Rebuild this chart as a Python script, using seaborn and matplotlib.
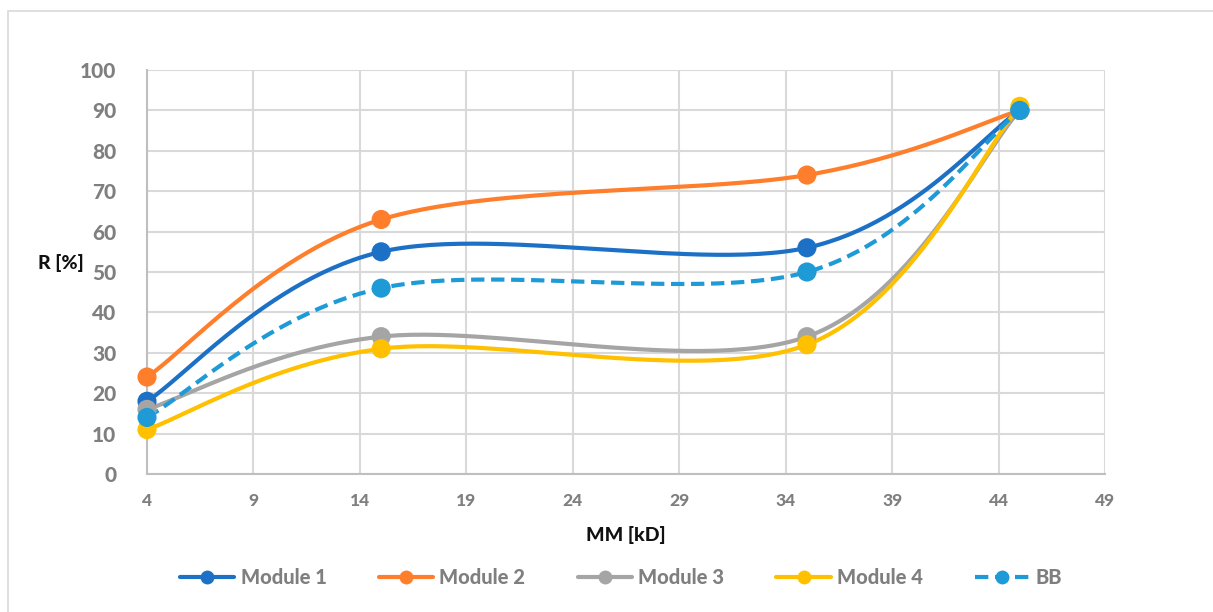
import numpy as np
import pandas as pd
import matplotlib
matplotlib.use("Agg")
import matplotlib.pyplot as plt
from matplotlib.lines import Line2D
from matplotlib.patches import Rectangle
import seaborn as sns

mm = [4, 15, 35, 45]
module1 = [18, 55, 56, 90]
module2 = [24, 63, 74, 90]
module3 = [16, 34, 34, 90]
module4 = [11, 31, 32, 91]
bb = [14, 46, 50, 90]
names = ["Module 1", "Module 2", "Module 3", "Module 4", "BB"]
colors = ["#1C71C6", "#FE7E2C", "#A5A5A5", "#FFC000", "#1E9BD7"]
styles = ["-", "-", "-", "-", (0, (3.2, 1.6))]


def smooth(x, y, n=60):
    # Excel-like smoothed line: cubic Bezier, Catmull-Rom control points
    p = np.column_stack([x, y]).astype(float)
    pts = []
    for i in range(len(p) - 1):
        p0 = p[max(i - 1, 0)]
        p1, p2 = p[i], p[i + 1]
        p3 = p[min(i + 2, len(p) - 1)]
        c1 = p1 + (p2 - p0) / 6
        c2 = p2 - (p3 - p1) / 6
        t = np.linspace(0, 1, n)[:, None]
        seg = ((1 - t) ** 3) * p1 + 3 * ((1 - t) ** 2) * t * c1 + 3 * (1 - t) * t ** 2 * c2 + t ** 3 * p2
        pts.append(seg if i == 0 else seg[1:])
    pts = np.vstack(pts)
    return pts[:, 0], pts[:, 1]


sns.set_style("white")
plt.rcParams["font.family"] = ["Lato", "DejaVu Sans"]
W = 900

fig = plt.figure(figsize=(12.13, 6.12), dpi=100)
fig.patches.append(Rectangle((8 / 1213, -0.05), 1.1, 1 - 11 / 612 + 0.05, transform=fig.transFigure,
                             fill=False, edgecolor="#D9D9D9", linewidth=1.2))
ax = fig.add_axes([147 / 1213, 1 - 474 / 612, (1105 - 147) / 1213, (474 - 70) / 612])

series = [module1, module2, module3, module4, bb]
handles = []
for name, vals, c, ls in zip(names, series, colors, styles):
    sx, sy = smooth(mm, vals)
    ax.plot(sx, sy, color=c, lw=3, ls=ls, solid_capstyle="round", zorder=3, clip_on=False)
    df = pd.DataFrame({"MM": mm, "R": vals})
    sns.scatterplot(data=df, x="MM", y="R", color=c, s=190, edgecolor="none", ax=ax,
                    zorder=4, clip_on=False)
    handles.append(Line2D([0], [0], color=c, lw=3, ls=ls, marker="o", markersize=10,
                          markeredgecolor="none"))

ax.set_xlim(4, 49)
ax.set_ylim(0, 100)
ax.set_xticks(range(4, 50, 5))
ax.set_yticks(range(0, 101, 10))
ax.grid(True, color="#D9D9D9", lw=1.5)
ax.set_axisbelow(True)
for s in ["top", "right"]:
    ax.spines[s].set_visible(False)
for s in ["left", "bottom"]:
    ax.spines[s].set_color("#BFBFBF")
    ax.spines[s].set_linewidth(1.5)
ax.tick_params(axis="both", length=0, labelcolor="#7F7F7F")
ax.tick_params(axis="x", pad=14, labelsize=12.5)
ax.tick_params(axis="y", pad=22, labelsize=15)
for lab in ax.get_xticklabels() + ax.get_yticklabels():
    lab.set_fontweight(W)

ax.set_xlabel("MM [kD]", fontsize=14, fontweight=W, color="#111111", labelpad=12)
ax.set_ylabel("R [%]", fontsize=14, fontweight=W, color="#111111", rotation=0, labelpad=0)
ax.yaxis.set_label_coords(-0.09, 0.5)

fig.legend(handles, names, loc="center", bbox_to_anchor=(0.512, 1 - 578 / 612), ncol=5,
           frameon=False, handlelength=2.7, columnspacing=2.6, handletextpad=0.3,
           prop={"size": 14.5, "weight": W}, labelcolor="#7F7F7F")

fig.savefig("out.png", dpi=100)
